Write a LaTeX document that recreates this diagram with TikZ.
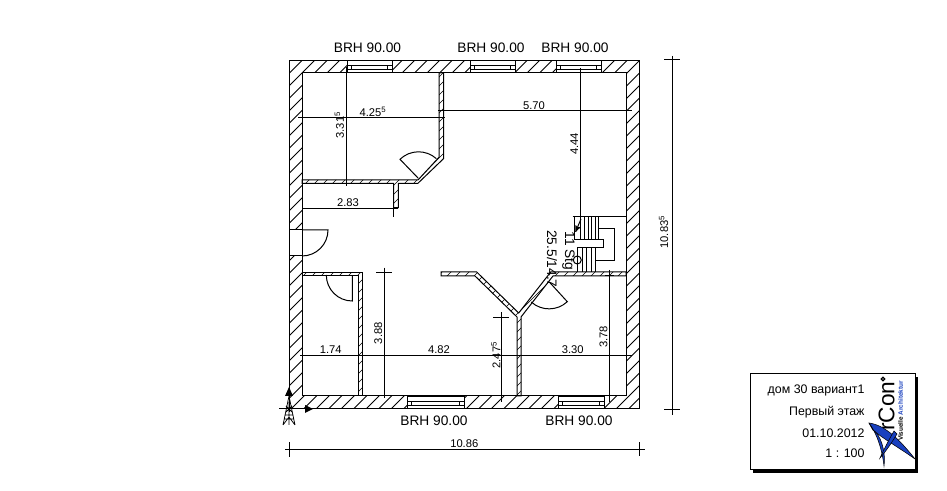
\documentclass[tikz,border=0pt]{standalone}
\usepackage{fontspec}
\setmainfont{Liberation Sans}
\usepackage{tikz}
\usetikzlibrary{arrows}
\definecolor{logoblue}{rgb}{0.1,0.25,0.75}

\newcommand{\thinwall}[1]{%
  \begin{scope}
    \clip #1 -- cycle;
    \foreach \c in {300,309,...,1100} \draw[hatchline,line width=0.4pt] (\c,0) -- (0,\c);
  \end{scope}
  \draw #1 -- cycle;}
\newcommand{\wallwindow}[3]{%
  \draw[fill=white] (#1,#3) rectangle (#2,#3+12.5);
  \draw (#1,#3+4.7) rectangle (#2,#3+8.7);
  \draw (#1+4.5,#3+4.7) -- (#1+4.5,#3+8.7) (#2-4.5,#3+4.7) -- (#2-4.5,#3+8.7);}

\begin{document}
\begin{tikzpicture}[x=0.75pt,y=-0.75pt,line width=0.75pt,
                    hatchline/.style={line width=0.6pt},
                    dimtext/.style={font=\fontsize{8.4}{9}\selectfont,inner sep=0pt},
                    sill/.style={font=\fontsize{10.3}{12}\selectfont,inner sep=0pt},
                    titletext/.style={font=\fontsize{9.3}{11}\selectfont,inner sep=0pt,anchor=east}]
  \useasboundingbox (0,0) rectangle (947,491);

  % outer walls
  \begin{scope}
    \clip (289.5,60.5) rectangle (639.5,409);
    \foreach \c in {350,362.5,...,1050} \draw[hatchline] (\c,0) -- (0,\c);
  \end{scope}
  \draw (289.5,60.5) rectangle (639.5,409);
  \draw[fill=white] (302,73) rectangle (626,396);

  % windows
  \wallwindow{347}{392}{60.5}
  \wallwindow{470}{515}{60.5}
  \wallwindow{556}{601}{60.5}
  \wallwindow{407}{464}{396.5}
  \wallwindow{558}{604}{396.5}

  % inner walls
  \thinwall{(302,180) -- (418,180) -- (439,157.3) -- (439,73) -- (443.7,73) -- (443.7,158.5)
    -- (417.7,183.5) -- (398.3,183.5) -- (398.3,207.7) -- (393.7,207.7) -- (393.7,183.5) -- (302,183.5)}
  \thinwall{(302,272.3) -- (362.3,272.3) -- (362.3,396) -- (358.3,396) -- (358.3,275.3) -- (302,275.3)}
  \thinwall{(441,272) -- (476.7,272) -- (518.7,313) -- (550.7,272) -- (626,272) -- (626,276) -- (553,276)
    -- (521,317) -- (521,396) -- (517,396) -- (517,317) -- (475,276) -- (441,276)}

  % doors
  \draw[fill=white] (289.5,230) rectangle (302,256);
  \draw (302,230) -- (328,230) arc[start angle=0,end angle=-90,radius=19.5pt];
  \draw (352.3,275.3) -- (352.3,301) arc[start angle=-90,end angle=-180,radius=19.5pt];
  \draw (418.3,178.3) -- (400,159.3) arc[start angle=134,end angle=48,radius=20pt];
  \draw (549.3,282) -- (567.3,301.7) arc[start angle=-47,end angle=-132,radius=20pt];

  % stairs
  \draw (626,217) -- (574,217) -- (574,240) -- (603.3,240) -- (603.3,247.7) -- (577.3,247.7) -- (577.3,272);
  \foreach \x in {580,584,588,591.7,595,598.7} \draw (\x,217) -- (\x,240);
  \foreach \x in {582,586.3,591,595.7} \draw (\x,247.7) -- (\x,272);
  \draw (598.7,228.7) -- (614.7,228.7) -- (614.7,260.7) -- (595.5,260.7);
  \draw (577.3,260) circle (3pt);
  \draw[-stealth'] (581,219) -- (575.5,232);

  % dimension lines
  \draw (298,117.3) -- (445,117.3);
  \draw (438,111) -- (632,111);
  \draw (346.7,67) -- (346.7,186);
  \draw (302,208.3) -- (398,208.3) (393.7,183.5) -- (393.7,216.7);
  \draw (580.3,68) -- (580.3,217) (572.7,217) -- (588,217);
  \draw (300,355.3) -- (632,355.3);
  \draw (384.7,267.7) -- (384.7,398) (376,272.3) -- (391.7,272.3);
  \draw (501.7,312.3) -- (501.7,401.7) (493.3,317.3) -- (509,317.3);
  \draw (609.3,270) -- (609.3,401.7) (605,276) -- (613.5,276);
  \draw (285,449.3) -- (644.7,449.3) (289.5,442.3) -- (289.5,457.3) (639.3,442.3) -- (639.3,456);
  \draw (672.5,56) -- (672.5,415) (664,60) -- (680,60) (664,409.7) -- (680,409.7);

  \node[dimtext] (dimA) at (373,111.5) {4.25\textsuperscript{5}};
  \node[dimtext] (dimB) at (534,105.7) {5.70};
  \node[dimtext,rotate=90] (dimC) at (339.3,125) {3.31\textsuperscript{5}};
  \node[dimtext] (dimD) at (348,202.7) {2.83};
  \node[dimtext,rotate=90] (dimE) at (574.3,144) {4.44};
  \node[dimtext] (dimF) at (330.7,350) {1.74};
  \node[dimtext] (dimG) at (439,350) {4.82};
  \node[dimtext] (dimH) at (572.7,349.5) {3.30};
  \node[dimtext,rotate=90] (dimI) at (378.3,333.3) {3.88};
  \node[dimtext,rotate=90] (dimJ) at (495.7,355) {2.47\textsuperscript{5}};
  \node[dimtext,rotate=90] (dimK) at (603.5,337) {3.78};
  \node[dimtext] (dimL) at (464.3,443.3) {10.86};
  \node[dimtext,rotate=90] (dimM) at (663.5,232) {10.83\textsuperscript{5}};

  \node[sill] (sillA) at (367.5,47.5) {BRH 90.00};
  \node[sill] (sillB) at (491,47.5) {BRH 90.00};
  \node[sill] (sillC) at (575,47.5) {BRH 90.00};
  \node[sill] (sillD) at (434,421) {BRH 90.00};
  \node[sill] (sillE) at (579,421) {BRH 90.00};
  \node[sill,rotate=-90] (stairA) at (552,259) {25.5/14.7};
  \node[sill,rotate=-90] (stairB) at (568.5,251) {11 Stg};

  % north mark
  \draw (279,409) -- (312,409) (289,388) -- (289,412);
  \fill (285,396) -- (289,387) -- (293,396) -- cycle;
  \fill (305,405) -- (313,409) -- (305,413) -- cycle;
  \draw[line width=0.55pt] (289,396) -- (283,425) (289,396) -- (295,425)
    (286,406) -- (292,412) (292,406) -- (286,412) (285,415) -- (293,415)
    (284.5,419) -- (293.5,419) (283,425) -- (289,417) -- (295,425) (289,402) -- (289,425);

  % title block
  \fill (753,377) rectangle (918,473);
  \draw[fill=white] (750.3,374) rectangle (915,470);
  \node[titletext] (titleA) at (865,390.7) {дом 30 вариант1};
  \node[titletext] (titleB) at (865,412) {Первый этаж};
  \node[titletext] (titleC) at (865,433) {01.10.2012};
  \node[titletext] (titleD) at (865,453) {1 : 100};

  % logo
  \node[inner sep=0pt,rotate=90,font=\fontsize{17}{18}\selectfont] (logoA) at (886.5,406) {rCon};
  \node[inner sep=0pt,rotate=90,font=\bfseries\fontsize{4.8}{5}\selectfont] (logoB) at (900.5,411)
    {Visuelle \textcolor{logoblue}{Architektur}};
  \draw[line width=0.9pt] (883,379) circle (1.3pt);
  \draw[fill=logoblue,line width=0.4pt] (869,423) .. controls (885,425) and (900,440) .. (915,459)
    .. controls (898,447) and (882,438) .. (873,430) -- cycle;
  \draw[fill=logoblue,line width=0.4pt] (869,423) .. controls (876,432) and (882,448) .. (884,466)
    .. controls (886,450) and (880,434) .. (873,430) -- cycle;
  \draw[fill=logoblue,line width=0.4pt] (894,431) .. controls (890,438) and (885,447) .. (880,458)
    .. controls (887,450) and (892,442) .. (897,434) -- cycle;
\end{tikzpicture}
\end{document}
